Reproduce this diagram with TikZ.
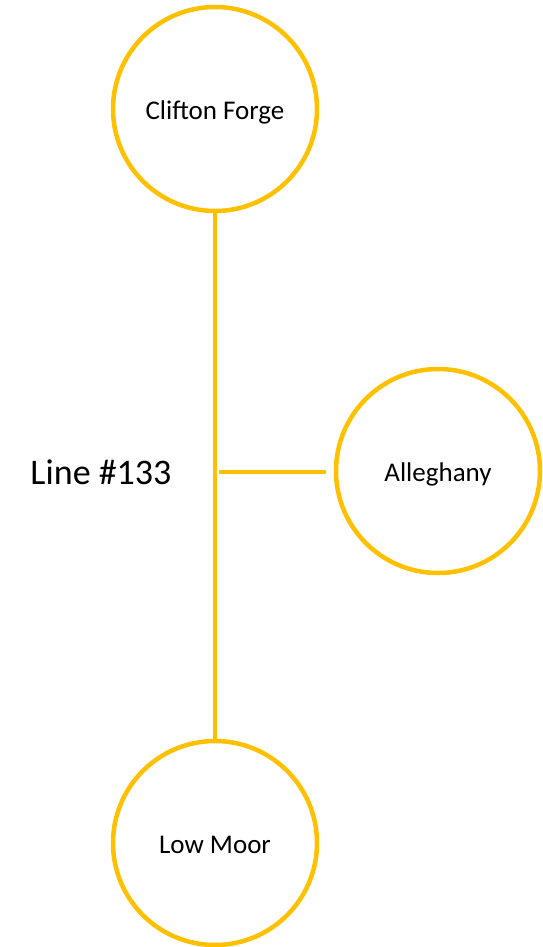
\documentclass[tikz,border=0pt]{standalone}
\usepackage{fontspec}
\setmainfont{Carlito}
\definecolor{gold}{HTML}{FFC000}
\begin{document}
\begin{tikzpicture}[x=1pt,y=-1pt,
  station/.style={circle,draw=gold,line width=4.5pt,minimum size=204pt,inner sep=0pt,fill=white,
    text height=21pt,text depth=0pt,font=\fontsize{27}{32}\selectfont},
  link/.style={draw=gold,line width=3.5pt},
  lbl/.style={font=\fontsize{36}{42}\selectfont,inner sep=0pt}]
\useasboundingbox (0,0) rectangle (543,947);
\node[station] (cf) at (215,109) {Clifton Forge};
\node[station] (al) at (438,471) {Alleghany};
\node[station] (lm) at (215,843) {Low Moor};
\node[lbl] (line) at (101,472) {Line \#133};
\draw[link] (cf.south) -- (lm.north);
\coordinate (jn) at (219,472);
\draw[link] (jn) -- ([xshift=-8pt]al.west |- jn);
\end{tikzpicture}
\end{document}
